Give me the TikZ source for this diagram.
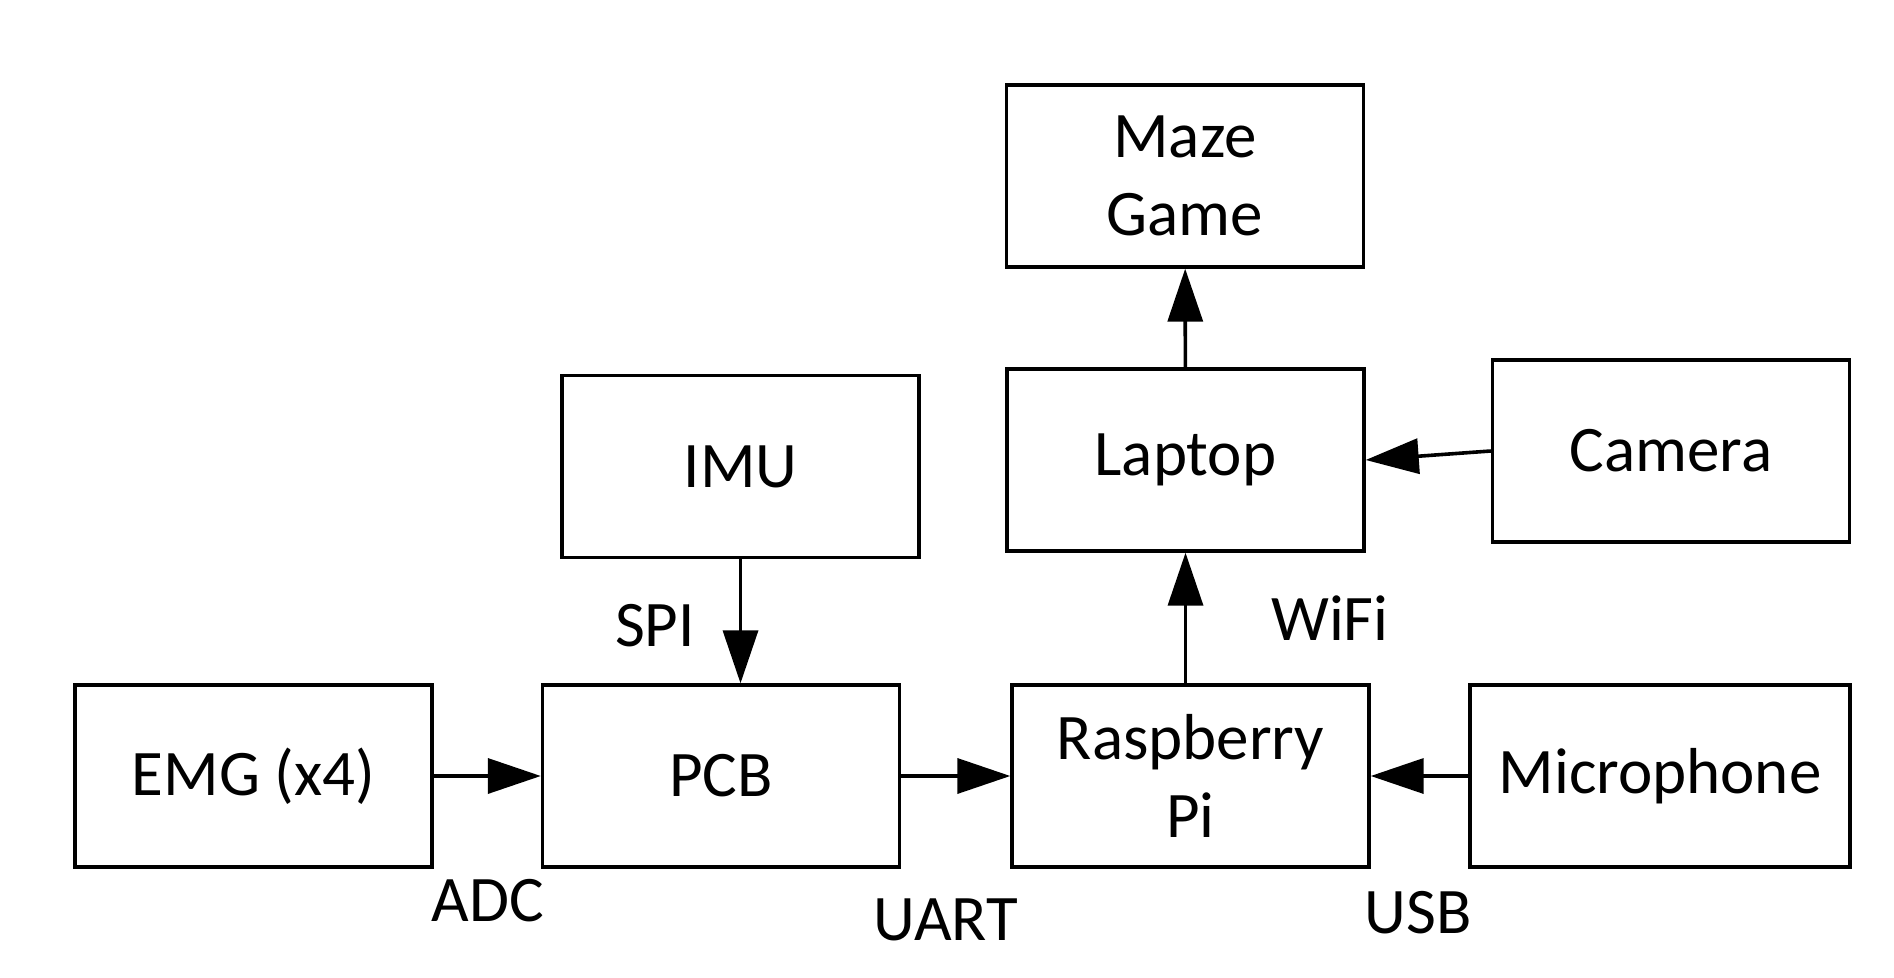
\documentclass[tikz,border=0pt]{standalone}
\usepackage{fontspec}
\setmainfont{Carlito}
\usepackage{tikz}
\usetikzlibrary{arrows.meta}

\begin{document}
\begin{tikzpicture}[
	x=0.5pt, y=-0.5pt,
	every node/.style = {font=\fontsize{32.5pt}{39pt}\selectfont},
	block/.style = {shape=rectangle, draw, line width=1.7pt, align=center,
	minimum width=178.5pt, minimum height=91pt, inner sep=0pt},
	tag/.style = {anchor=base, inner sep=0pt},
	link/.style = {-{Triangle[length=26.5pt,width=17.5pt]}, draw, line width=1.8pt}
]
\useasboundingbox (0,0) rectangle (1894,978);
\node[block] (emg) at (253.5,776) {EMG (x4)};
\node[block] (pcb) at (721,776) {PCB};
\node[block] (rpi) at (1190.5,776) {Raspberry\\Pi};
\node[block, minimum width=190pt] (mic) at (1660,776) {Microphone};
\node[block] (imu) at (740.5,466.5) {IMU};
\node[block] (lap) at (1185.5,460) {Laptop};
\node[block] (cam) at (1671,451) {Camera};
\node[block] (maze) at (1185,176) {Maze\\Game};

\draw[link] (emg) -- (pcb);
\draw[link] (pcb) -- (rpi);
\draw[link] (mic) -- (rpi);
\draw[link] (imu.south) -- (imu.south |- pcb.north);
\draw[link] (rpi.north -| lap.south) -- (lap.south);
\draw[link] (lap) -- (maze);
\draw[link] (cam.west) -- (lap.east);

\node[tag] (adc) at (488,921) {ADC};
\node[tag] (uart) at (946,940) {UART};
\node[tag] (usb) at (1418,933) {USB};
\node[tag] (spi) at (655,646) {SPI};
\node[tag] (wifi) at (1330,640) {WiFi};
\end{tikzpicture}
\end{document}
